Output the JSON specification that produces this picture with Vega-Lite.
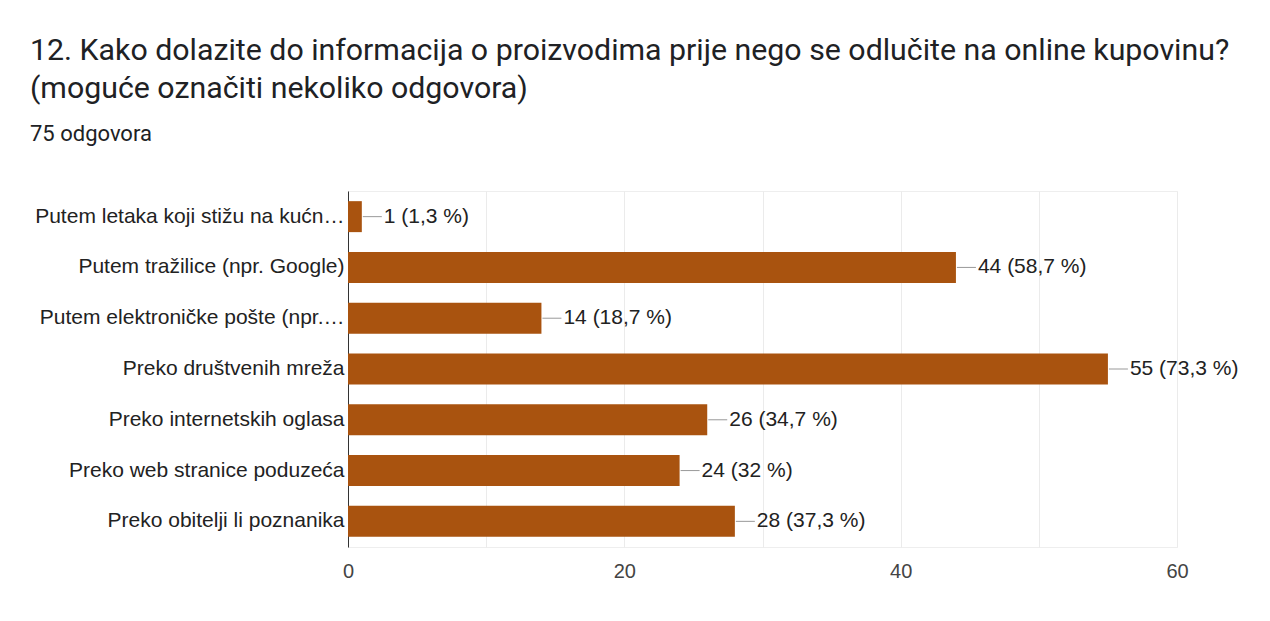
{
  "$schema": "https://vega.github.io/schema/vega-lite/v6.json",
  "width": 829,
  "height": 356,
  "padding": {"left": 30, "top": 35, "right": 30, "bottom": 30},
  "background": "#ffffff",
  "title": {
    "text": ["12. Kako dolazite do informacija o proizvodima prije nego se odlučite na online kupovinu?", "(moguće označiti nekoliko odgovora)"],
    "subtitle": "75 odgovora",
    "anchor": "start",
    "frame": "group",
    "dx": -318,
    "font": "Roboto",
    "fontSize": 30.3,
    "fontWeight": "normal",
    "lineHeight": 38,
    "color": "#202124",
    "subtitleFont": "Roboto",
    "subtitleFontSize": 22,
    "subtitleColor": "#202124",
    "subtitlePadding": 20,
    "offset": 46
  },
  "data": {
    "values": [
      {"odgovor": "Putem letaka koji stižu na kućn…", "broj": 1, "oznaka": "1 (1,3 %)"},
      {"odgovor": "Putem tražilice (npr. Google)", "broj": 44, "oznaka": "44 (58,7 %)"},
      {"odgovor": "Putem elektroničke pošte (npr.…", "broj": 14, "oznaka": "14 (18,7 %)"},
      {"odgovor": "Preko društvenih mreža", "broj": 55, "oznaka": "55 (73,3 %)"},
      {"odgovor": "Preko internetskih oglasa", "broj": 26, "oznaka": "26 (34,7 %)"},
      {"odgovor": "Preko web stranice poduzeća", "broj": 24, "oznaka": "24 (32 %)"},
      {"odgovor": "Preko obitelji li poznanika", "broj": 28, "oznaka": "28 (37,3 %)"}
    ]
  },
  "encoding": {
    "y": {
      "field": "odgovor",
      "type": "nominal",
      "sort": null,
      "title": null,
      "scale": {"paddingInner": 0.39, "paddingOuter": 0.2},
      "axis": {
        "labelFont": "Liberation Sans",
        "labelFontSize": 21,
        "labelColor": "#222222",
        "labelPadding": 4,
        "labelLimit": 400,
        "ticks": false,
        "domainColor": "#333333",
        "domainWidth": 1,
        "grid": false,
        "minExtent": 318,
        "maxExtent": 318
      }
    }
  },
  "layer": [
    {
      "mark": {"type": "bar", "color": "#a9530f"},
      "encoding": {
        "x": {
          "field": "broj",
          "type": "quantitative",
          "title": null,
          "scale": {"domain": [0, 60], "nice": false},
          "axis": {
            "values": [0, 10, 20, 30, 40, 50, 60],
            "labelExpr": "datum.value % 20 == 0 ? datum.label : ''",
            "labelFlush": false,
            "labelFont": "Liberation Sans",
            "labelFontSize": 20,
            "labelColor": "#444444",
            "labelPadding": 14,
            "ticks": false,
            "domain": false,
            "grid": true,
            "gridColor": "#ebebeb",
            "gridWidth": 1
          }
        }
      }
    },
    {
      "mark": {"type": "rule", "color": "#999999", "strokeWidth": 1, "xOffset": 1, "x2Offset": 20},
      "encoding": {
        "x": {"field": "broj", "type": "quantitative"},
        "x2": {"field": "broj"}
      }
    },
    {
      "mark": {"type": "text", "align": "left", "baseline": "middle", "dx": 22, "font": "Liberation Sans", "fontSize": 21, "color": "#222222"},
      "encoding": {
        "x": {"field": "broj", "type": "quantitative"},
        "text": {"field": "oznaka"}
      }
    }
  ],
  "config": {
    "view": {"stroke": "#eeeeee"}
  }
}
